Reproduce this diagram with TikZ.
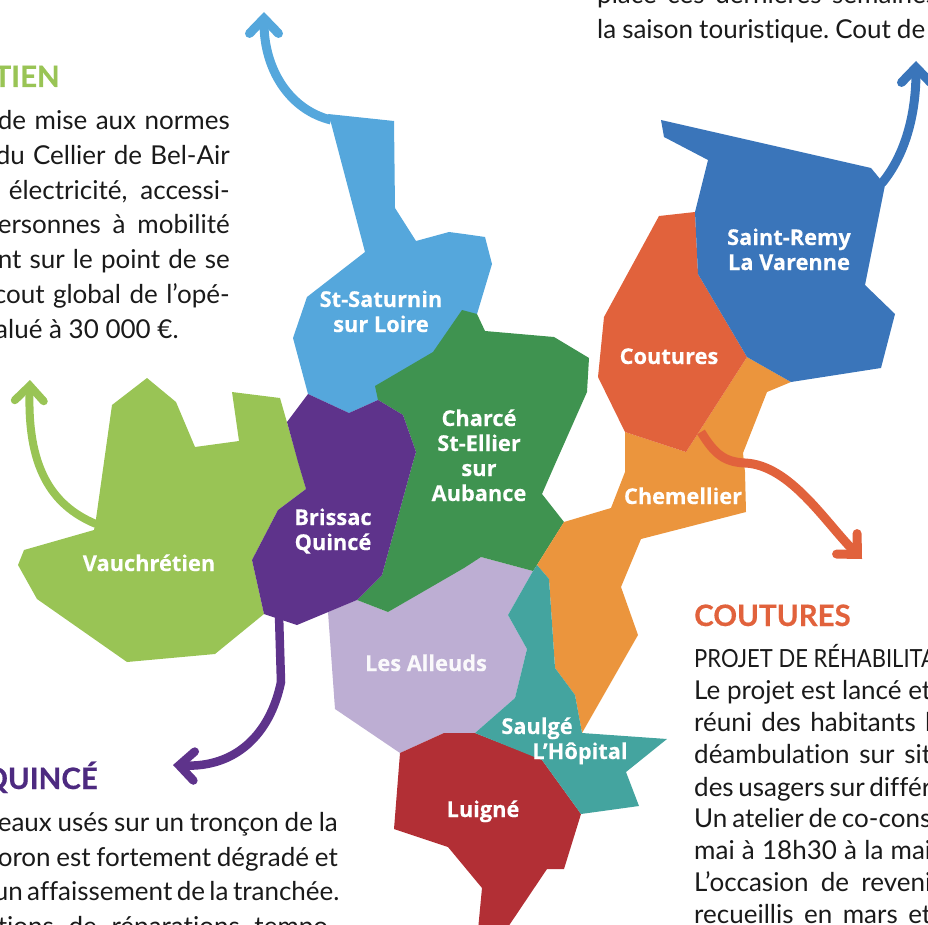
\documentclass[tikz,border=0pt]{standalone}
\usepackage{fontspec}
\setmainfont[Ligatures={TeX,NoCommon},BoldFeatures={FakeBold=0.35}]{Lato}
\newfontfamily\labelfont[BoldFeatures={FakeBold=0.2}]{Open Sans}
\newfontfamily\condfont[FakeStretch=0.88]{Lato}
\usetikzlibrary{arrows.meta}
\frenchspacing
\definecolor{cSat}{HTML}{55A7DC}
\definecolor{cCha}{HTML}{3F9350}
\definecolor{cBri}{HTML}{5E338B}
\definecolor{cVau}{HTML}{99C455}
\definecolor{cAll}{HTML}{BDAED3}
\definecolor{cLui}{HTML}{B22F35}
\definecolor{cSau}{HTML}{44A49F}
\definecolor{cChe}{HTML}{EB953D}
\definecolor{cCou}{HTML}{E1623C}
\definecolor{cRem}{HTML}{3A75BA}
\definecolor{cHeadP}{HTML}{4D2A80}
\definecolor{cBody}{HTML}{1A1A1A}
\newcommand{\jl}[2]{\makebox[#1pt][s]{#2}}
\tikzset{
  area/.style={fill=#1,draw=none},
  lbl/.style={text=white,inner sep=0pt,align=center,anchor=base,font=\labelfont\bfseries\fontsize{21.8}{25}\selectfont},
  head/.style={text=#1,inner sep=0pt,font=\bfseries\fontsize{29.5}{34}\selectfont},
  bodyl/.style={text=cBody,inner sep=0pt,font=\fontsize{26}{30}\selectfont,anchor=base west},
  bodyr/.style={text=cBody,inner sep=0pt,font=\fontsize{26}{30}\selectfont,anchor=base east},
  curvearrow/.style={draw=#1,line width=9pt,-{Straight Barb[length=15pt,width=29pt,line cap=round,line join=miter]}},
}
\begin{document}
\begin{tikzpicture}[x=1pt,y=-1pt]
\clip (0,0) rectangle (928,925);
% arrow anchor points
\coordinate (satS) at (331,120); \coordinate (satE) at (264,12);
\coordinate (vauS) at (96,524);  \coordinate (vauE) at (30,380);
\coordinate (briS) at (279,615); \coordinate (briE) at (173,765);
\coordinate (remS) at (882,183); \coordinate (remE) at (916,61);
\coordinate (couS) at (701,432); \coordinate (couE) at (862,559);
% arrows under the areas
\draw[curvearrow=cSat] (satS) .. controls (290,110) and (264,70) .. (satE);
\draw[curvearrow=cVau,line width=8pt] (vauS) .. controls (50,505) and (27,465) .. (vauE);
\draw[curvearrow=cRem] (remS) .. controls (905,155) and (916,115) .. (remE);
% areas
\fill[area=cSat] (328,114)--(394,121)--(395,208)--(416,241)--(449,232)--(464,234)--(485,237)--(492,264)--(477,314)--(440,380)--(378,400)--(349,413)--(308,394)--(293,338)--(307,297)--(365,252)--(331,123)--cycle;
\fill[area=cVau] (147,378)--(112,405)--(104,462)--(96,519)--(94,530)--(24,550)--(18,565)--(37,599)--(127,662)--(215,654)--(264,614)--(252,560)--(278,510)--(306,489)--(280,398)--(232,392)--(239,441)--(195,447)--(176,402)--cycle;
\fill[area=cAll] (328,612)--(335,709)--(400,753)--(444,733)--(475,733)--(515,698)--(527,649)--(508,615)--(533,571)--(481,557)--(388,612)--(357,600)--cycle;
\fill[area=cCha] (462,310)--(433,352)--(375,386)--(378,400)--(403,415)--(416,452)--(413,462)--(382,575)--(357,600)--(388,612)--(464,568)--(481,557)--(533,571)--(537,565)--(564,522)--(542,494)--(556,462)--(587,392)--(589,358)--(554,337)--(485,331)--(477,314)--cycle;
\fill[area=cBri] (308,394)--(287,422)--(298,462)--(306,489)--(278,510)--(252,560)--(264,614)--(297,625)--(357,600)--(382,575)--(413,462)--(416,452)--(403,415)--(378,400)--(349,413)--cycle;
\fill[area=cLui] (400,753)--(444,733)--(475,733)--(531,755)--(542,760)--(581,814)--(564,869)--(547,869)--(506,930)--(478,930)--(482,888)--(448,847)--(394,829)--cycle;
\fill[area=cChe] (537,565)--(564,522)--(611,508)--(625,472)--(625,432)--(686,452)--(747,357)--(791,382)--(767,392)--(743,453)--(745,472)--(746,512)--(641,539)--(621,587)--(638,635)--(582,733)--(575,695)--(555,668)--(549,579)--cycle;
\fill[area=cSau] (537,565)--(549,579)--(555,668)--(575,695)--(582,733)--(667,739)--(626,772)--(639,806)--(581,814)--(542,760)--(475,733)--(515,698)--(527,649)--(508,615)--(533,571)--cycle;
\draw[curvearrow=cCou] (couS) .. controls (715,455) and (725,462) .. (745,463) .. controls (790,465) and (825,522) .. (couE);
\fill[area=cCou] (659,216)--(695,212)--(698,274)--(747,357)--(686,452)--(625,432)--(598,377)--(604,317)--cycle;
\fill[area=cRem] (661,120)--(871,168)--(885,185)--(865,285)--(895,314)--(881,368)--(791,382)--(747,357)--(698,274)--(695,212)--(708,160)--(664,137)--cycle;
\draw[curvearrow=cBri,line width=8.5pt] (briS) -- (281,682) .. controls (270,735) and (235,768) .. (briE);
% area names
\node[lbl] (nSat) at (381,332) {St-Saturnin\\sur Loire};
\node[lbl] (nRem) at (789,270) {Saint-Remy\\La Varenne};
\node[lbl] (nCou) at (669,364) {Coutures};
\node[lbl] (nCha) at (479,501) {Charcé\\St-Ellier\\sur\\Aubance};
\node[lbl] (nChe) at (683,504) {Chemellier};
\node[lbl] (nBri) at (333,550) {Brissac\\Quincé};
\node[lbl] (nVau) at (149,571) {Vauchrétien};
\node[lbl,text=white!92!cAll] (nAll) at (426,671) {Les Alleuds};
\node[lbl] (nSau) at (537,734) {Saulgé};
\node[lbl] (nHop) at (580,759) {L’Hôpital};
\node[lbl] (nLui) at (483,817) {Luigné};
% headings
\node[head=cVau,anchor=base east] (hVau) at (60,87) {TIEN};
\node[head=cHeadP,anchor=base east] (hBri) at (98,789) {QUINCÉ};
\node[head=cCou,anchor=base west] (hCou) at (694,626) {COUTURES};
% text, upper left
\node[bodyr] (t1) at (230,130) {\jl{232}{de mise aux normes}};
\node[bodyr] (t2) at (230,165) {\jl{234}{du Cellier de Bel-Air}};
\node[bodyr] (t3) at (230,200) {\jl{221}{électricité, accessi-}};
\node[bodyr] (t4) at (230,234) {\jl{232}{ersonnes à mobilité}};
\node[bodyr] (t5) at (230,269) {\jl{232}{nt sur le point de se}};
\node[bodyr] (t6) at (230,303) {\jl{236}{cout global de l’opé-}};
\node[bodyl] (t7) at (-5,338) {alué à 30 000 €.};
% text, upper right
\node[bodyl] (u1) at (597,4) {\jl{340}{place ces dernières semaines}};
\node[bodyl] (u2) at (597,39) {\jl{328}{la saison touristique. Cout de}};
% text, lower left
\node[bodyr] (v1) at (338,831) {\jl{340}{eaux usés sur un tronçon de la}};
\node[bodyr] (v2) at (338,866) {\jl{340}{oron est fortement dégradé et}};
\node[bodyr] (v3) at (338,900) {\jl{344}{un affaissement de la tranchée.}};
\node[bodyr] (v4) at (338,935) {\jl{340}{tions de réparations tempo-}};
% text, lower right
\node[bodyl,font=\condfont\fontsize{25}{30}\selectfont] (w0) at (694,667) {PROJET DE RÉHABILITA};
\node[bodyl] (w1) at (694,699) {\jl{237}{Le projet est lancé et}};
\node[bodyl] (w2) at (694,731) {\jl{237}{réuni des habitants l}};
\node[bodyl] (w3) at (694,763) {\jl{237}{déambulation sur sit}};
\node[bodyl] (w4) at (694,796) {\jl{237}{des usagers sur différ}};
\node[bodyl] (w5) at (694,827) {\jl{237}{Un atelier de co-cons}};
\node[bodyl] (w6) at (694,859) {\jl{237}{mai à 18h30 à la mai}};
\node[bodyl] (w7) at (694,891) {\jl{237}{L’occasion de reveni}};
\node[bodyl] (w8) at (694,923) {\jl{237}{recueillis en mars et}};
\end{tikzpicture}
\end{document}
